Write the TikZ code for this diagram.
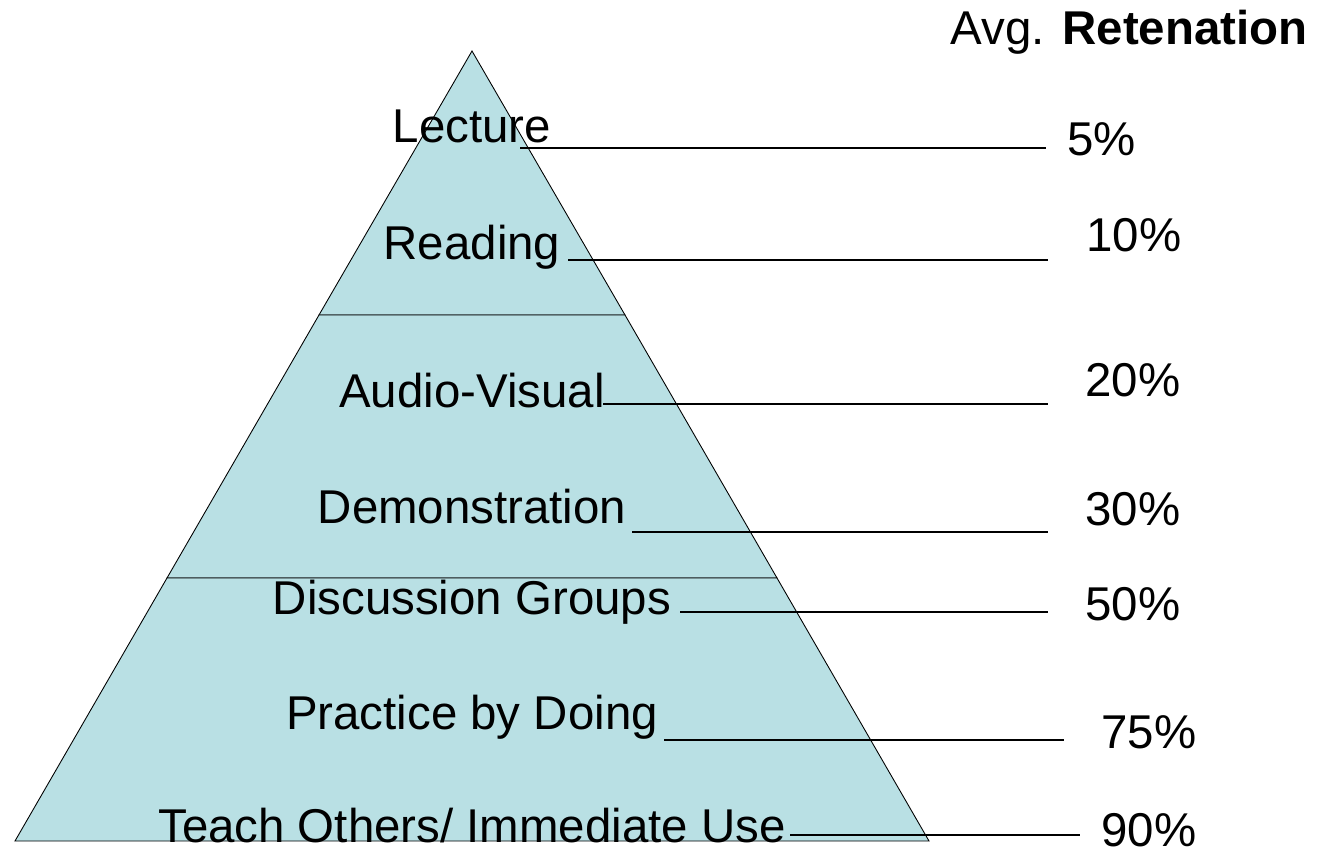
\documentclass[tikz,border=0pt]{standalone}
\usepackage{fontspec}
\setmainfont{Liberation Sans}
\usepackage{xcolor}
\usetikzlibrary{positioning}

\definecolor{tierblue}{RGB}{185,224,228}

\begin{document}
\begin{tikzpicture}[
            x=0.02cm, y=-0.02cm,
            tier/.style={fill=tierblue, draw=black, line width=0.5pt, line join=miter},
            label/.style={inner sep=0pt, anchor=base, font=\fontsize{27}{32}\selectfont},
            pct/.style={inner sep=0pt, anchor=base west, font=\fontsize{27}{32}\selectfont},
            leader/.style={-, line width=1.1pt}
        ]
        \useasboundingbox (0,0) rectangle (1328,847);

        % Pyramid corners (manual layout to match figure)
        \coordinate (apex) at (472,51);
        \coordinate (L1) at (319,315);
        \coordinate (R1) at (625,315);
        \coordinate (L2) at (167,578);
        \coordinate (R2) at (777,578);
        \coordinate (BL) at (15,841);
        \coordinate (BR) at (929,841);

        % Tiers
        \filldraw[tier] (apex) -- (R1) -- (L1) -- cycle;
        \filldraw[tier] (L1) -- (R1) -- (R2) -- (L2) -- cycle;
        \filldraw[tier] (L2) -- (R2) -- (BR) -- (BL) -- cycle;

        % Heading
        \node[inner sep=0pt, anchor=base east, font=\fontsize{27}{32}\selectfont] (head) at (1308,45) {Avg. \textbf{Retenation}};

        % Methods
        \node[label] (lec) at (472,143) {Lecture};
        \node[label] (rea) at (472,260) {Reading};
        \node[label] (av) at (472,408) {Audio-Visual};
        \node[label] (dem) at (472,523) {Demonstration};
        \node[label] (dis) at (472,614) {Discussion Groups};
        \node[label] (pra) at (472,729) {Practice by Doing};
        \node[label] (tea) at (472,842) {Teach Others/ Immediate Use};

        % Retention values
        \node[pct] (p5) at (1067,156) {5\%};
        \node[pct] (p10) at (1086,252) {10\%};
        \node[pct] (p20) at (1085,397) {20\%};
        \node[pct] (p30) at (1085,525) {30\%};
        \node[pct] (p50) at (1085,620) {50\%};
        \node[pct] (p75) at (1101,748) {75\%};
        \node[pct] (p90) at (1101,846) {90\%};

        % Leader lines
        \coordinate (lecA) at (520,148);  \coordinate (lecB) at (1046,148);
        \coordinate (reaA) at (568,260);  \coordinate (reaB) at (1048,260);
        \coordinate (avA) at (603,404);   \coordinate (avB) at (1048,404);
        \coordinate (demA) at (632,532);  \coordinate (demB) at (1048,532);
        \coordinate (disA) at (680,612);  \coordinate (disB) at (1048,612);
        \coordinate (praA) at (664,740);  \coordinate (praB) at (1064,740);
        \coordinate (teaA) at (790,835);  \coordinate (teaB) at (1080,835);

        \draw[leader] (lecA) -- (lecB);
        \draw[leader] (reaA) -- (reaB);
        \draw[leader] (avA) -- (avB);
        \draw[leader] (demA) -- (demB);
        \draw[leader] (disA) -- (disB);
        \draw[leader] (praA) -- (praB);
        \draw[leader] (teaA) -- (teaB);

    \end{tikzpicture}
\end{document}
